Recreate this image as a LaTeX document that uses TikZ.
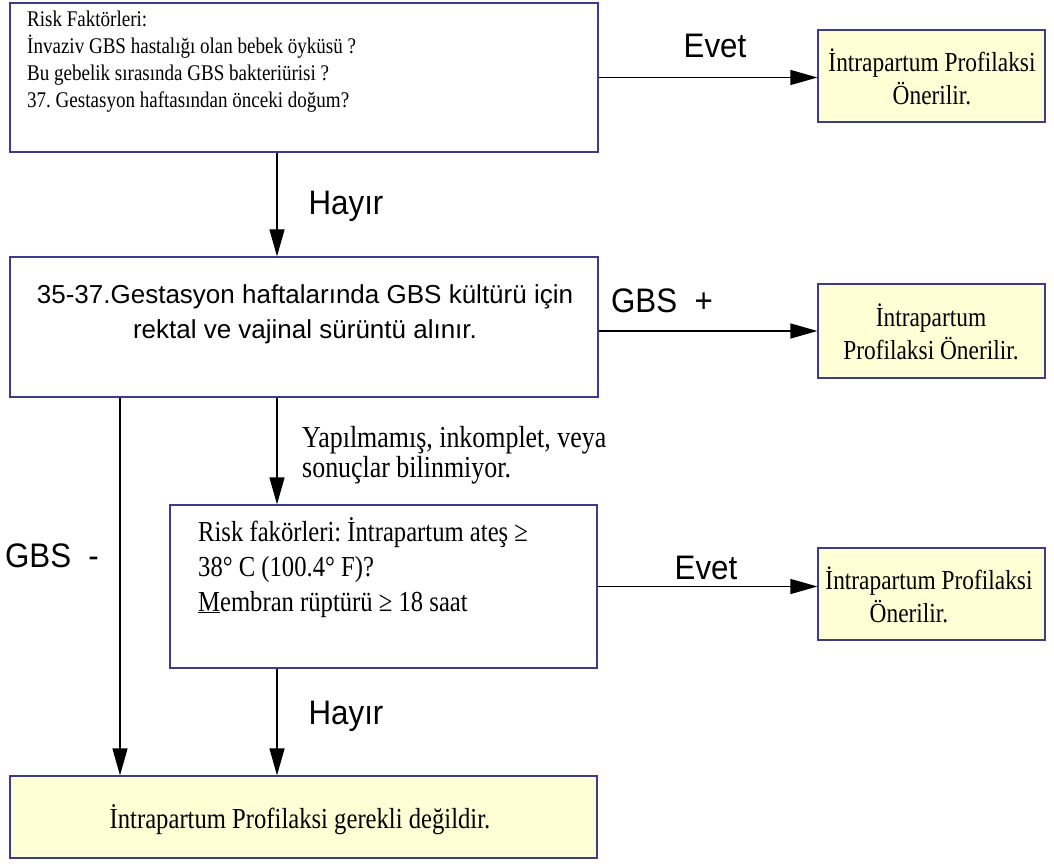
\documentclass[tikz,border=0pt]{standalone}
\usepackage{fontspec}
\setmainfont{Liberation Serif}[FakeStretch=0.85]
\newfontfamily\arial{Liberation Sans}
\newfontfamily\arialc{Liberation Sans}[FakeStretch=0.92]
\usetikzlibrary{arrows.meta}
\frenchspacing
\definecolor{boxline}{HTML}{3C3C8A}
\definecolor{boxfill}{HTML}{FFFFD6}
\tikzset{
  plainbox/.style={draw=boxline, line width=1.3pt, fill=white, rectangle, inner sep=0pt},
  yellowbox/.style={plainbox, fill=boxfill},
  arr/.style={draw=black, line width=1.3pt, -{Triangle[length=27pt,width=15pt]}},
  lbl/.style={font=\arialc\fontsize{34}{36}\selectfont, inner sep=0pt},
  serifsmall/.style={font=\fontsize{22.4}{27}\selectfont, inner sep=0pt, align=left},
  serifbig/.style={font=\fontsize{29}{33}\selectfont, inner sep=0pt, align=center},
}
\begin{document}
\begin{tikzpicture}[x=1pt,y=-1pt]
\frenchspacing
\useasboundingbox (0,0) rectangle (1054,866);
% boxes
\node[plainbox, minimum width=588pt, minimum height=149pt] (b1) at (304,77.5) {};
\node[plainbox, minimum width=588pt, minimum height=140pt] (b2) at (304,327) {};
\node[plainbox, minimum width=427pt, minimum height=163pt] (b3) at (383.5,586.5) {};
\node[yellowbox, minimum width=587pt, minimum height=82pt] (b4) at (303.5,817) {};
\node[yellowbox, minimum width=227pt, minimum height=92pt] (r1) at (931.5,76) {};
\node[yellowbox, minimum width=227pt, minimum height=94pt] (r2) at (931.5,331) {};
\node[yellowbox, minimum width=227pt, minimum height=92pt] (r3) at (931.5,594) {};
% texts
\node[serifsmall, anchor=north west] (t1) at (27,11) {Risk Faktörleri:\\İnvaziv GBS hastalığı olan bebek öyküsü ?\\Bu gebelik sırasında GBS bakteriürisi ?\\37. Gestasyon haftasından önceki doğum?};
\node[font=\arial\fontsize{26}{35}\selectfont, align=center, inner sep=0pt] (t2) at (305,314) {35-37.Gestasyon haftalarında GBS kültürü için\\rektal ve vajinal sürüntü alınır.};
\node[font=\fontsize{29}{35}\selectfont, align=left, inner sep=0pt, anchor=north west] (t3) at (198,517) {Risk fakörleri: İntrapartum ateş ≥\\38° C (100.4° F)?\\\underline{M}embran rüptürü ≥ 18 saat};
\node[serifbig] (t4) at (300,820) {İntrapartum Profilaksi gerekli değildir.};
\node[serifbig, font=\fontsize{27.5}{33}\selectfont] (tr1) at (932,77) {İntrapartum Profilaksi\\Önerilir.};
\node[serifbig, font=\fontsize{27.5}{33}\selectfont] (tr2) at (931,332) {İntrapartum\\Profilaksi Önerilir.};
\node[serifbig, font=\fontsize{27.5}{33}\selectfont] (tr3) at (929,595) {İntrapartum Profilaksi\\Önerilir.\hspace*{40pt}};
% coordinates
\coordinate (cx) at (277,0);
\coordinate (lx) at (120,0);
% connectors
\draw[arr] (b1.east) -- (b1.east -| r1.west);
\draw[arr] (b1.south -| cx) -- (b2.north -| cx);
\draw[arr] (r2.west -| b2.east) -- (r2.west);
\draw[arr] (b2.south -| cx) -- (b3.north -| cx);
\draw[arr] (b2.south -| lx) -- (b4.north -| lx);
\draw[arr] (b3.east) -- (b3.east -| r3.west);
\draw[arr] (b3.south -| cx) -- (b4.north -| cx);
% labels
\node[lbl] (l1) at (715,46) {Evet};
\node[lbl] (l2) at (346,206) {Hayır};
\node[lbl] (l3) at (662,301) {GBS\ \ +};
\node[font=\fontsize{30.5}{30}\selectfont, align=left, inner sep=0pt, anchor=north west] (l4) at (302,426) {Yapılmamış, inkomplet, veya\\sonuçlar bilinmiyor.};
\node[lbl] (l5) at (52,556) {GBS\ \ -};
\node[lbl] (l6) at (706,568) {Evet};
\node[lbl] (l7) at (346,716) {Hayır};
\end{tikzpicture}
\end{document}
